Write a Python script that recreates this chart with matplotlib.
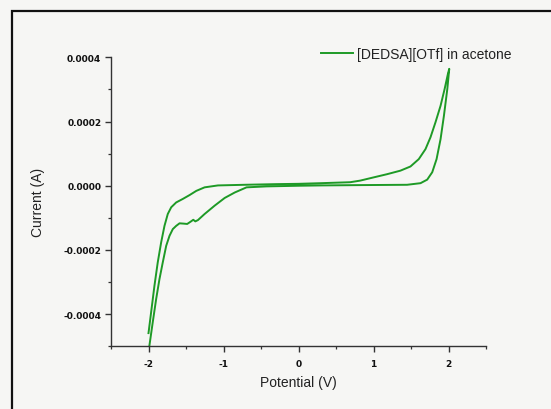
import matplotlib
matplotlib.use("Agg")
import matplotlib.pyplot as plt
import numpy as np
from matplotlib.ticker import MultipleLocator, FormatStrFormatter
from matplotlib.patches import Rectangle

# ---- data (potential in V, current in units of 1e-4 A) ----
potential = [-2.0, -1.965, -1.921, -1.877, -1.831, -1.787, -1.743, -1.697, -1.631,
             -1.542, -1.452, -1.363, -1.252, -1.074, -0.716, -0.3, 0.0, 0.3, 0.69,
             0.823, 1.001, 1.181, 1.359, 1.493, 1.604, 1.693, 1.76, 1.827, 1.894,
             1.948, 1.992, 2.01,
             1.984, 1.939, 1.894, 1.841, 1.783, 1.716, 1.627, 1.448, 0.823, 0.3, 0.0,
             -0.426, -0.693, -0.85, -0.984, -1.118, -1.252, -1.341, -1.376, -1.403,
             -1.439, -1.484, -1.529, -1.586, -1.631, -1.676, -1.72, -1.764, -1.81,
             -1.854, -1.898, -1.944, -1.988, -2.0]
current_e4 = [-4.59, -3.94, -3.12, -2.39, -1.76, -1.25, -0.88, -0.67, -0.52,
              -0.41, -0.29, -0.16, -0.05, 0.01, 0.03, 0.05, 0.06, 0.08, 0.11,
              0.16, 0.26, 0.36, 0.47, 0.60, 0.83, 1.14, 1.51, 1.98, 2.49,
              3.01, 3.48, 3.64,
              3.01, 2.18, 1.45, 0.83, 0.42, 0.19, 0.08, 0.03, 0.02, 0.01, 0.0,
              -0.02, -0.05, -0.21, -0.38, -0.62, -0.88, -1.07, -1.11, -1.06,
              -1.12, -1.19, -1.18, -1.17, -1.25, -1.35, -1.56, -1.87, -2.39,
              -2.91, -3.53, -4.26, -4.98, -5.2]
series_label = "[DEDSA][OTf] in acetone"
x_ticks = [-2, -1, 0, 1, 2]
y_ticks = [-0.0004, -0.0002, 0.0, 0.0002, 0.0004]

plt.rcParams['font.family'] = ['Liberation Sans', 'DejaVu Sans']
plt.rcParams['axes.unicode_minus'] = False

W, H = 551, 410
fig = plt.figure(figsize=(W / 100, H / 100), dpi=100)
bg = '#f6f6f4'
fig.patch.set_facecolor(bg)

# outer frame (runs off the right and bottom edges)
fig.patches.append(Rectangle((12 / W, -0.1), 1.2, (H - 12) / H + 0.1,
                             transform=fig.transFigure, fill=False,
                             edgecolor='#111111', linewidth=1.6, zorder=0))

left, right = 111 / W, 486 / W
top, bottom = 58.3, 347.3
ax = fig.add_axes([left, (H - bottom) / H, right - left, (bottom - top) / H])
ax.set_facecolor(bg)

I = np.array(current_e4) * 1e-4
ax.plot(potential, I, color='#1e9a26', linewidth=1.4, solid_joinstyle='round',
        label=series_label, clip_on=True)

ax.set_xlim(-2.5, 2.5)
ax.set_ylim(-0.0005, 0.0004)
ax.spines['top'].set_visible(False)
ax.spines['right'].set_visible(False)
for s in ('left', 'bottom'):
    ax.spines[s].set_color('#333333')
    ax.spines[s].set_linewidth(1.0)

ax.set_xticks(x_ticks)
ax.set_yticks(y_ticks)
ax.xaxis.set_minor_locator(MultipleLocator(0.5))
ax.yaxis.set_minor_locator(MultipleLocator(0.0001))
ax.yaxis.set_major_formatter(FormatStrFormatter('%.4f'))
ax.xaxis.set_major_formatter(FormatStrFormatter('%d'))
ax.tick_params(which='major', direction='out', length=4, width=1.0, color='#333333',
               labelsize=6.5, labelcolor='#111111')
ax.tick_params(axis='x', which='major', pad=5)
ax.tick_params(axis='y', which='major', pad=3)
ax.tick_params(which='minor', direction='out', length=2.5, width=0.9, color='#333333')
for lbl in ax.get_xticklabels() + ax.get_yticklabels():
    lbl.set_fontweight('bold')
    lbl.set_family('DejaVu Sans')

ax.set_xlabel('Potential (V)', fontsize=10, color='#222222')
ax.set_ylabel('Current (A)', fontsize=10, color='#222222')
ax.xaxis.set_label_coords(0.5, -0.10)
ax.yaxis.set_label_coords(-0.176, 0.5)

leg = ax.legend(loc='center left', bbox_to_anchor=(0.56, 1.011), frameon=False,
                fontsize=10, handlelength=2.3, handletextpad=0.3,
                borderpad=0, borderaxespad=0)
for t in leg.get_texts():
    t.set_color('#222222')

fig.savefig('out.png', dpi=100, facecolor=bg)
